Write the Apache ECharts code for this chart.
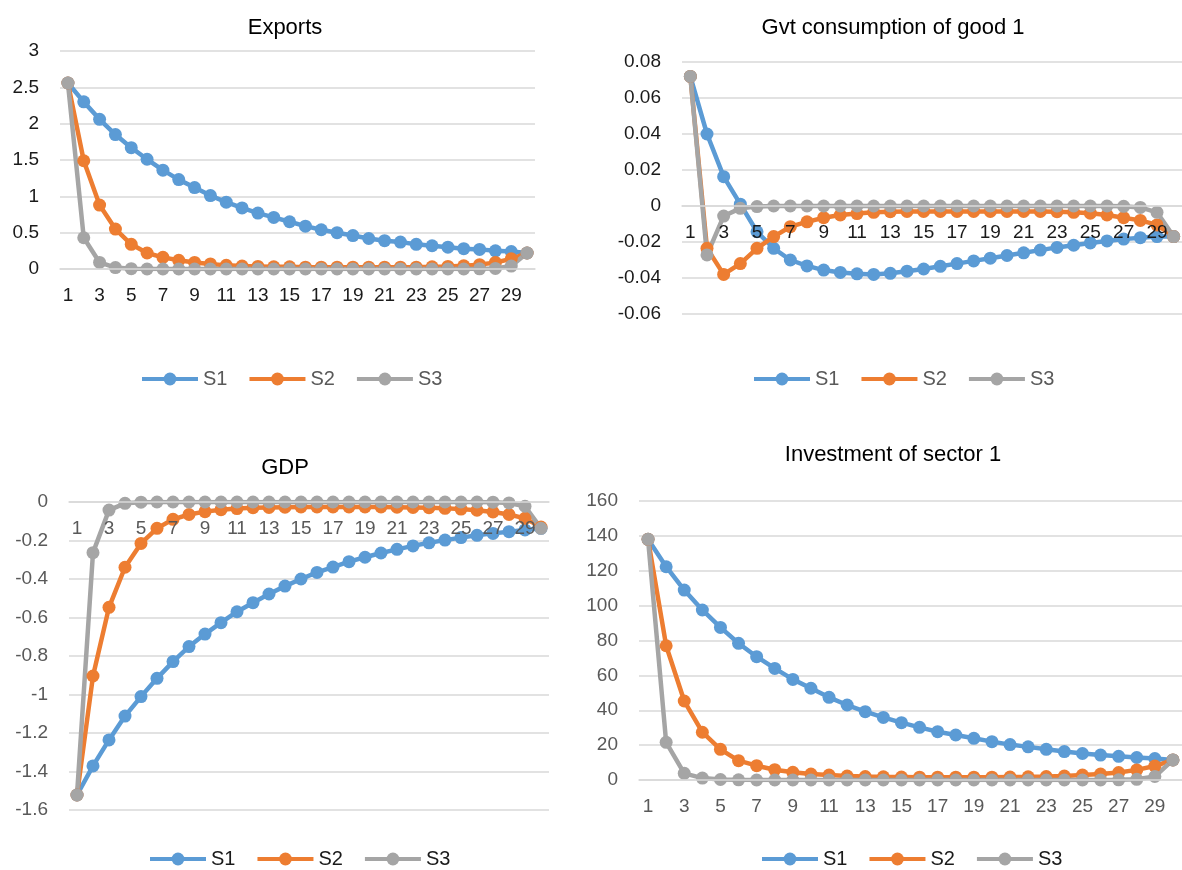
<!DOCTYPE html>
<html>
<head>
<meta charset="utf-8">
<title>Impulse responses</title>
<script src="https://cdn.jsdelivr.net/npm/echarts@6/dist/echarts.min.js"></script>
<style>
  html, body { margin: 0; padding: 0; background: #ffffff; }
  #chart { width: 1182px; height: 870px; }
</style>
</head>
<body>
<div id="chart"></div>
<script>
// Periods 1..30 shared by every panel
const periods = Array.from({ length: 30 }, (_, i) => String(i + 1));
const seriesNames = ['S1', 'S2', 'S3'];

// Exports
const exportsS1 = [2.56, 2.30, 2.06, 1.85, 1.67, 1.51, 1.36, 1.23, 1.12, 1.01, 0.92, 0.84, 0.77, 0.71, 0.65,
  0.59, 0.54, 0.50, 0.46, 0.42, 0.39, 0.37, 0.34, 0.32, 0.30, 0.28, 0.27, 0.25, 0.24, 0.22];
const exportsS2 = [2.56, 1.49, 0.88, 0.55, 0.34, 0.22, 0.16, 0.12, 0.09, 0.07, 0.05, 0.04, 0.035, 0.03, 0.03,
  0.025, 0.025, 0.025, 0.025, 0.025, 0.025, 0.025, 0.025, 0.03, 0.035, 0.045, 0.06, 0.09, 0.14, 0.22];
const exportsS3 = [2.56, 0.43, 0.09, 0.02, 0.005, 0, 0, 0, 0, 0, 0, 0, 0, 0, 0,
  0, 0, 0, 0, 0, 0, 0, 0, 0, 0, 0, 0.002, 0.008, 0.04, 0.22];

// Government consumption of good 1
const gvtS1 = [0.072, 0.040, 0.0163, 0.001, -0.0143, -0.0235, -0.030, -0.0333, -0.0356, -0.0369, -0.0377, -0.038, -0.0374, -0.0362, -0.035,
  -0.0335, -0.032, -0.0305, -0.029, -0.0275, -0.026, -0.0245, -0.023, -0.0218, -0.0205, -0.0194, -0.0184, -0.0176, -0.017, -0.017];
const gvtS2 = [0.072, -0.0235, -0.038, -0.032, -0.0235, -0.017, -0.0115, -0.0088, -0.0065, -0.005, -0.0042, -0.0035, -0.0032, -0.003, -0.003,
  -0.003, -0.003, -0.003, -0.003, -0.003, -0.003, -0.003, -0.0032, -0.0035, -0.004, -0.005, -0.0065, -0.008, -0.0105, -0.017];
const gvtS3 = [0.072, -0.0272, -0.0056, -0.0013, -0.0003, 0, 0, 0, 0, 0, 0, 0, 0, 0, 0,
  0, 0, 0, 0, 0, 0, 0, 0, 0, 0, 0, -0.0002, -0.0008, -0.0035, -0.017];

// GDP
const gdpS1 = [-1.522, -1.371, -1.236, -1.112, -1.011, -0.916, -0.829, -0.751, -0.686, -0.627, -0.570, -0.523, -0.478, -0.437, -0.400,
  -0.366, -0.338, -0.310, -0.287, -0.265, -0.246, -0.228, -0.212, -0.198, -0.185, -0.173, -0.163, -0.154, -0.145, -0.137];
const gdpS2 = [-1.522, -0.904, -0.547, -0.339, -0.215, -0.137, -0.090, -0.065, -0.050, -0.040, -0.034, -0.030, -0.028, -0.027, -0.026,
  -0.026, -0.026, -0.026, -0.026, -0.026, -0.027, -0.028, -0.030, -0.033, -0.037, -0.043, -0.052, -0.065, -0.085, -0.130];
const gdpS3 = [-1.522, -0.263, -0.042, -0.007, -0.001, 0, 0, 0, 0, 0, 0, 0, 0, 0, 0,
  0, 0, 0, 0, 0, 0, 0, 0, 0, 0, 0, -0.001, -0.005, -0.022, -0.137];

// Investment of sector 1
const invS1 = [138.0, 122.3, 108.9, 97.5, 87.5, 78.4, 70.7, 64.0, 57.7, 52.6, 47.4, 43.0, 39.2, 35.9, 32.9,
  30.2, 27.7, 25.8, 23.9, 22.0, 20.3, 19.0, 17.6, 16.3, 15.2, 14.3, 13.6, 12.9, 12.3, 11.5];
const invS2 = [138.0, 77.0, 45.3, 27.4, 17.6, 11.1, 8.2, 5.9, 4.4, 3.4, 2.8, 2.3, 2.0, 1.8, 1.7,
  1.6, 1.6, 1.6, 1.6, 1.6, 1.7, 1.8, 2.0, 2.3, 2.8, 3.4, 4.3, 5.8, 8.0, 11.5];
const invS3 = [138.0, 21.6, 3.8, 1.1, 0.3, 0.1, 0, 0, 0, 0, 0, 0, 0, 0, 0,
  0, 0, 0, 0, 0, 0, 0, 0, 0, 0, 0, 0.1, 0.4, 2.0, 11.5];

const COLORS = ['#5B9BD5', '#ED7D31', '#A5A5A5'];
const FONT = '"Liberation Sans", Arial, sans-serif';
const GRID_LINE = '#d9d9d9';

// One panel per block: title, plot rectangle, y range, colours for text
const panels = [
  { title: 'Exports', data: [exportsS1, exportsS2, exportsS3],
    titleX: 285, titleY: 28, grid: { left: 60, top: 51, width: 475, height: 218 },
    min: 0, max: 3, interval: 0.5, axisText: '#1a1a1a', legendText: '#595959',
    legendX: 140, legendY: 369 },
  { title: 'Gvt consumption of good 1', data: [gvtS1, gvtS2, gvtS3],
    titleX: 893, titleY: 28, grid: { left: 682, top: 62, width: 505, height: 252 },
    min: -0.06, max: 0.08, interval: 0.02, axisText: '#1a1a1a', legendText: '#595959',
    legendX: 752, legendY: 369 },
  { title: 'GDP', data: [gdpS1, gdpS2, gdpS3],
    titleX: 285, titleY: 468, grid: { left: 69, top: 502, width: 480, height: 308 },
    min: -1.6, max: 0, interval: 0.2, axisText: '#595959', legendText: '#1a1a1a',
    legendX: 148, legendY: 849 },
  { title: 'Investment of sector 1', data: [invS1, invS2, invS3],
    titleX: 893, titleY: 455, grid: { left: 639, top: 501, width: 543, height: 279 },
    min: 0, max: 160, interval: 20, axisText: '#595959', legendText: '#1a1a1a',
    legendX: 760, legendY: 849 }
];

const option = {
  animation: false,
  backgroundColor: '#ffffff',
  textStyle: { fontFamily: FONT },
  title: [], legend: [], grid: [], xAxis: [], yAxis: [], series: []
};

panels.forEach((p, k) => {
  // The category axis sits where the value axis crosses zero
  const zeroOffset = -((0 - p.min) / (p.max - p.min)) * p.grid.height;

  option.title.push({
    text: p.title, left: p.titleX, top: p.titleY, padding: 0,
    textAlign: 'center', textVerticalAlign: 'middle',
    textStyle: { fontFamily: FONT, fontSize: 22, fontWeight: 'normal', color: '#000000' }
  });
  option.legend.push({
    left: p.legendX, top: p.legendY, padding: 0, orient: 'horizontal',
    itemWidth: 56, itemHeight: 16, itemGap: 20,
    data: seriesNames,
    lineStyle: { width: 4 },
    itemStyle: { borderWidth: 0 },
    textStyle: { fontFamily: FONT, fontSize: 20, color: p.legendText, padding: [0, 0, 0, 0] }
  });
  option.grid.push(Object.assign({ containLabel: false }, p.grid));
  option.xAxis.push({
    type: 'category', gridIndex: k, data: periods, boundaryGap: true, z: 5,
    position: 'bottom', offset: zeroOffset,
    axisLine: { show: true, onZero: false, lineStyle: { color: GRID_LINE, width: 1.5 } },
    axisTick: { show: false },
    axisLabel: { interval: 1, margin: 17, fontFamily: FONT, fontSize: 19, color: p.axisText },
    splitLine: { show: false }
  });
  option.yAxis.push({
    type: 'value', gridIndex: k, min: p.min, max: p.max, interval: p.interval,
    axisLine: { show: false }, axisTick: { show: false },
    axisLabel: { margin: 21, fontFamily: FONT, fontSize: 19, color: p.axisText },
    splitLine: { show: true, lineStyle: { color: GRID_LINE, width: 1.5 } }
  });
  p.data.forEach((vals, s) => {
    option.series.push({
      name: seriesNames[s], type: 'line', xAxisIndex: k, yAxisIndex: k,
      data: vals, symbol: 'circle', symbolSize: 13, showAllSymbol: true,
      color: COLORS[s],
      lineStyle: { width: 4.5, color: COLORS[s] },
      itemStyle: { color: COLORS[s] }
    });
  });
});

const chart = echarts.init(document.getElementById('chart'), null, { renderer: 'canvas' });
chart.setOption(option);
</script>
</body>
</html>
